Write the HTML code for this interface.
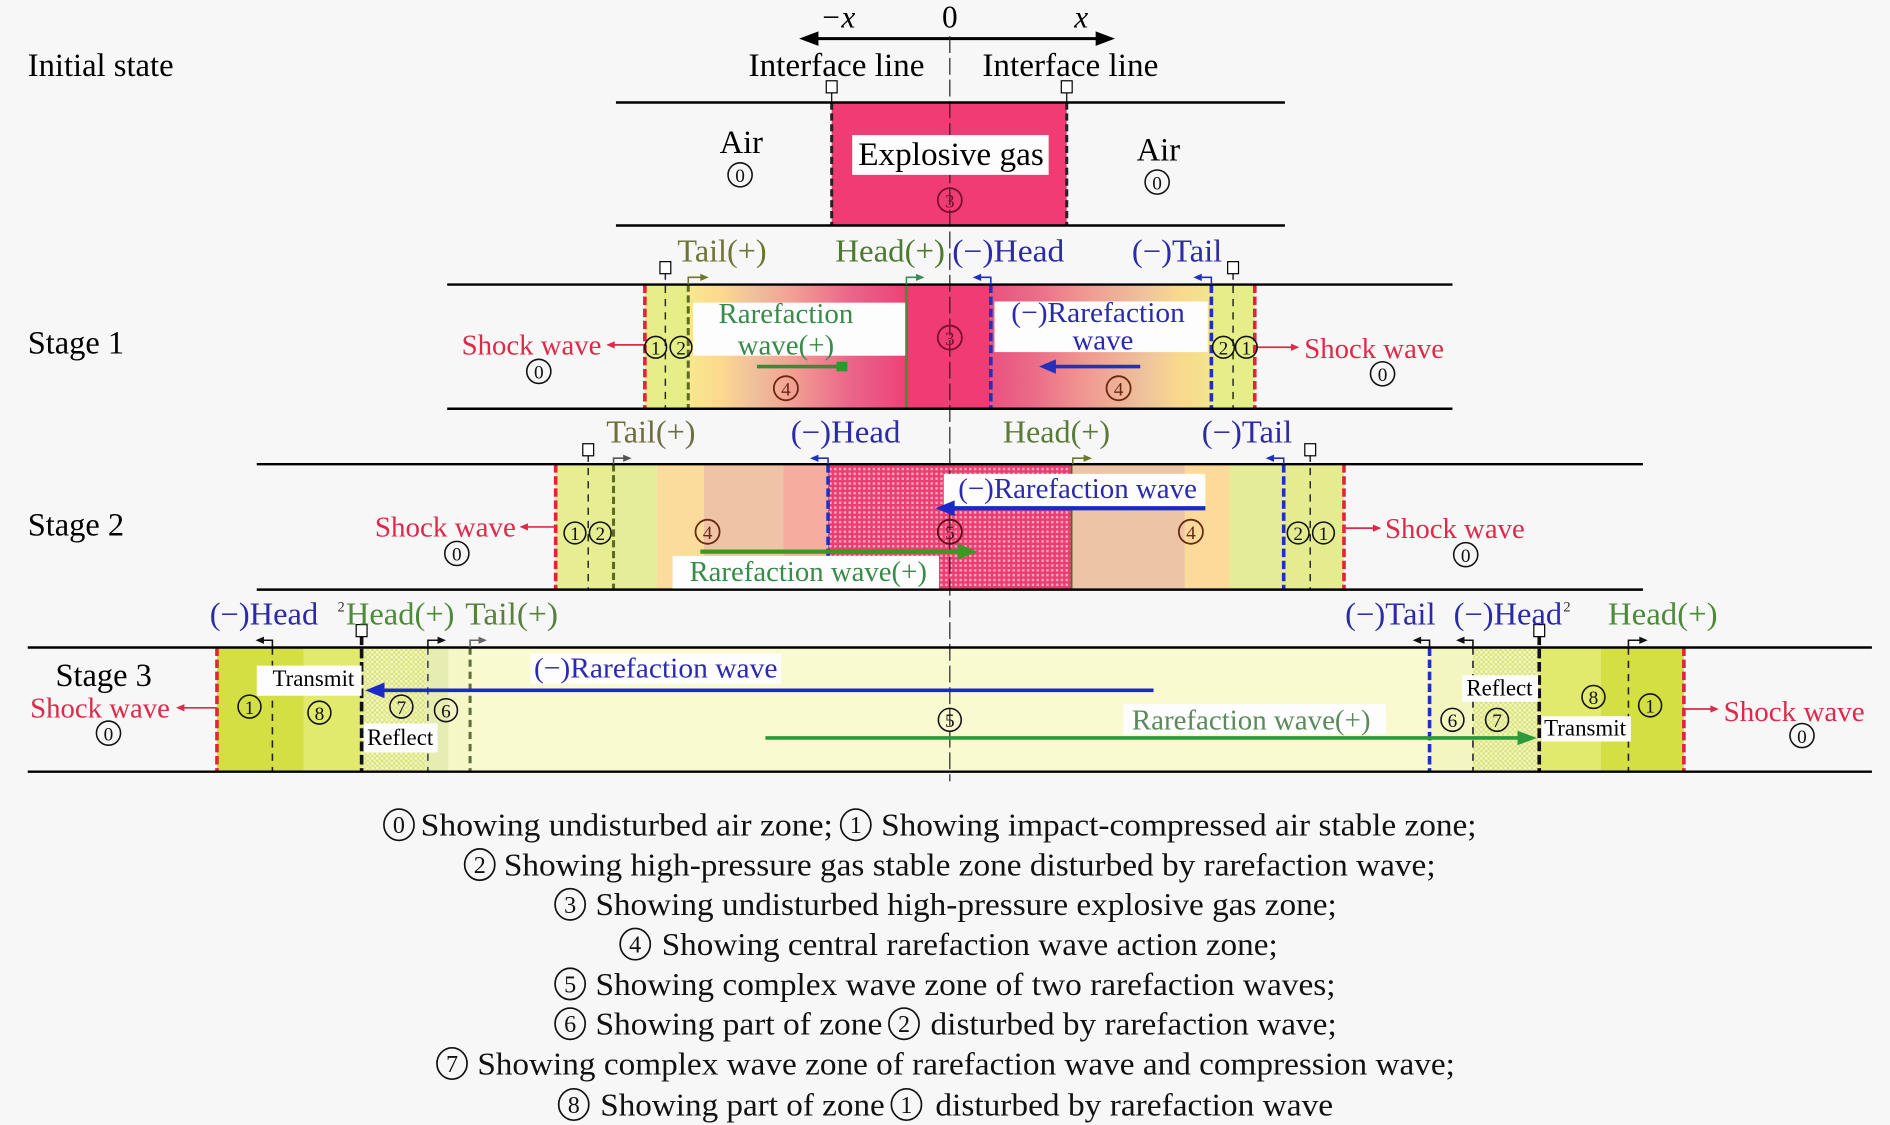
<!DOCTYPE html>
<html><head><meta charset="utf-8"><style>
html,body{margin:0;padding:0;background:#f7f7f7;}
svg{display:block;}
text{font-family:"Liberation Serif","DejaVu Serif",serif;}
.c{text-anchor:middle;}
</style></head><body>
<svg width="1890" height="1125" viewBox="0 0 1568 933" preserveAspectRatio="none" xmlns="http://www.w3.org/2000/svg">
<defs>
<pattern id="ph" width="4" height="4" patternUnits="userSpaceOnUse"><rect width="4" height="4" fill="#eb3d70"/><rect width="2" height="2" fill="#f8a8c0"/></pattern>
<pattern id="gh" width="4" height="4" patternUnits="userSpaceOnUse"><rect width="4" height="4" fill="#dce47a"/><rect width="2" height="2" fill="#f4f6cc"/><rect x="2" y="2" width="2" height="2" fill="#eef2b8"/></pattern>
<linearGradient id="g1L" x1="0" x2="1" y1="0" y2="0">
<stop offset="0" stop-color="#f8e88e"/><stop offset="0.15" stop-color="#fcd98f"/><stop offset="0.3" stop-color="#efc09c"/><stop offset="0.45" stop-color="#f3a595"/><stop offset="0.6" stop-color="#ef8490"/><stop offset="0.75" stop-color="#eb6488"/><stop offset="0.9" stop-color="#eb5080"/><stop offset="1" stop-color="#f04075"/></linearGradient>
<linearGradient id="g1R" x1="0" x2="1" y1="0" y2="0">
<stop offset="0" stop-color="#e9527f"/><stop offset="0.2" stop-color="#eb6c88"/><stop offset="0.4" stop-color="#f0938f"/><stop offset="0.55" stop-color="#efac96"/><stop offset="0.7" stop-color="#eec39c"/><stop offset="0.85" stop-color="#f9d88e"/><stop offset="1" stop-color="#f2e58e"/></linearGradient>
</defs>
<rect width="1568" height="933" fill="#f7f7f7"/>

<!-- ===== axis ===== -->
<line x1="672" y1="32" x2="916" y2="32" stroke="#000" stroke-width="2.5"/>
<polygon points="663,32 679,26 679,38" fill="#000"/>
<polygon points="925,32 909,26 909,38" fill="#000"/>
<text x="695" y="23" font-size="26" font-style="italic" class="c">−x</text>
<text x="788" y="23" font-size="26" class="c">0</text>
<text x="897" y="23" font-size="26" font-style="italic" class="c">x</text>
<text x="621" y="63" font-size="27" textLength="146" lengthAdjust="spacingAndGlyphs">Interface line</text>
<text x="815" y="63" font-size="27" textLength="146" lengthAdjust="spacingAndGlyphs">Interface line</text>
<text x="23" y="63" font-size="27" textLength="121" lengthAdjust="spacingAndGlyphs">Initial state</text>

<!-- ===== fills ===== -->
<rect x="690" y="85" width="195" height="102" fill="#f03c74"/>
<rect x="535" y="236" width="36" height="103" fill="#e6ee88"/>
<rect x="571" y="236" width="181" height="103" fill="url(#g1L)"/>
<rect x="752" y="236" width="70" height="103" fill="#f03c74"/>
<rect x="822" y="236" width="183" height="103" fill="url(#g1R)"/>
<rect x="1005" y="236" width="36" height="103" fill="#e6ee88"/>
<rect x="461" y="385" width="48" height="104" fill="#e6ed92"/>
<rect x="509" y="385" width="36" height="104" fill="#e6ed98"/>
<rect x="545" y="385" width="39" height="104" fill="#fcdc9c"/>
<rect x="584" y="385" width="66" height="104" fill="#efc4a6"/>
<rect x="650" y="385" width="37" height="104" fill="#f6ad9f"/>
<rect x="687" y="385" width="202" height="104" fill="url(#ph)"/>
<rect x="889" y="385" width="94" height="104" fill="#eec4a6"/>
<rect x="983" y="385" width="37" height="104" fill="#fcdb9a"/>
<rect x="1020" y="385" width="45" height="104" fill="#e5ec98"/>
<rect x="1065" y="385" width="50" height="104" fill="#e5ec90"/>
<rect x="180" y="537" width="72" height="103" fill="#d3df42"/>
<rect x="252" y="537" width="48" height="103" fill="#e1ea6c"/>
<rect x="300" y="537" width="53" height="103" fill="url(#gh)"/>
<rect x="353" y="537" width="19" height="103" fill="#e6edb2"/>
<rect x="372" y="537" width="18" height="103" fill="#f5f7c6"/>
<rect x="390" y="537" width="796" height="103" fill="#fafad0"/>
<rect x="1186" y="537" width="36" height="103" fill="#f4f6c2"/>
<rect x="1222" y="537" width="55" height="103" fill="url(#gh)"/>
<rect x="1277" y="537" width="51" height="103" fill="#e1ea6c"/>
<rect x="1328" y="537" width="69" height="103" fill="#d3df42"/>

<line x1="788" y1="30" x2="788" y2="648" stroke="#222" stroke-width="1" stroke-dasharray="14,4"/>

<g fill="none">
<line x1="690" y1="85" x2="690" y2="187" stroke="#222" stroke-width="2.5" stroke-dasharray="6,3"/>
<line x1="885" y1="85" x2="885" y2="187" stroke="#222" stroke-width="2.5" stroke-dasharray="6,3"/>
<line x1="535" y1="236" x2="535" y2="339" stroke="#e4233a" stroke-width="3" stroke-dasharray="7,3"/>
<line x1="552" y1="226" x2="552" y2="339" stroke="#222" stroke-width="1.2" stroke-dasharray="6,5"/>
<line x1="571" y1="236" x2="571" y2="339" stroke="#5d6a22" stroke-width="2.5" stroke-dasharray="6,3"/>
<line x1="752" y1="236" x2="752" y2="339" stroke="#4a8a3c" stroke-width="2.5"/>
<line x1="822" y1="236" x2="822" y2="339" stroke="#2230c0" stroke-width="3" stroke-dasharray="7,3"/>
<line x1="1005" y1="236" x2="1005" y2="339" stroke="#2230c0" stroke-width="3" stroke-dasharray="7,3"/>
<line x1="1023" y1="226" x2="1023" y2="339" stroke="#222" stroke-width="1.2" stroke-dasharray="6,5"/>
<line x1="1041" y1="236" x2="1041" y2="339" stroke="#e4233a" stroke-width="3" stroke-dasharray="7,3"/>
<line x1="461" y1="385" x2="461" y2="489" stroke="#e4233a" stroke-width="3" stroke-dasharray="7,3"/>
<line x1="488" y1="377" x2="488" y2="489" stroke="#222" stroke-width="1.2" stroke-dasharray="6,5"/>
<line x1="509" y1="385" x2="509" y2="489" stroke="#5d6a22" stroke-width="2.5" stroke-dasharray="6,3"/>
<line x1="687" y1="385" x2="687" y2="489" stroke="#2230c0" stroke-width="3" stroke-dasharray="7,3"/>
<line x1="889" y1="385" x2="889" y2="489" stroke="#4a6a30" stroke-width="1.5"/>
<line x1="1065" y1="385" x2="1065" y2="489" stroke="#2230c0" stroke-width="3" stroke-dasharray="7,3"/>
<line x1="1087" y1="377" x2="1087" y2="489" stroke="#222" stroke-width="1.2" stroke-dasharray="6,5"/>
<line x1="1115" y1="385" x2="1115" y2="489" stroke="#e4233a" stroke-width="3" stroke-dasharray="7,3"/>
<line x1="180" y1="537" x2="180" y2="640" stroke="#e4233a" stroke-width="3" stroke-dasharray="7,3"/>
<line x1="226" y1="537" x2="226" y2="640" stroke="#222" stroke-width="1.3" stroke-dasharray="6,5"/>
<line x1="300" y1="527" x2="300" y2="640" stroke="#111" stroke-width="3" stroke-dasharray="8,3"/>
<line x1="355" y1="537" x2="355" y2="640" stroke="#333" stroke-width="1.2" stroke-dasharray="6,5"/>
<line x1="390" y1="537" x2="390" y2="640" stroke="#5f6f3a" stroke-width="2.5" stroke-dasharray="6,4"/>
<line x1="1186" y1="537" x2="1186" y2="640" stroke="#2230c0" stroke-width="3" stroke-dasharray="7,3"/>
<line x1="1222" y1="537" x2="1222" y2="640" stroke="#222" stroke-width="1.3" stroke-dasharray="6,5"/>
<line x1="1277" y1="527" x2="1277" y2="640" stroke="#111" stroke-width="3" stroke-dasharray="8,3"/>
<line x1="1351" y1="537" x2="1351" y2="640" stroke="#222" stroke-width="1.3" stroke-dasharray="6,5"/>
<line x1="1397" y1="537" x2="1397" y2="640" stroke="#e4233a" stroke-width="3" stroke-dasharray="7,3"/>
</g>

<g stroke="#000" stroke-width="2">
<line x1="511" y1="85" x2="1066" y2="85"/><line x1="511" y1="187" x2="1066" y2="187"/>
<line x1="371" y1="236" x2="1205" y2="236"/><line x1="371" y1="339" x2="1205" y2="339"/>
<line x1="213" y1="385" x2="1363" y2="385"/><line x1="213" y1="489" x2="1363" y2="489"/>
<line x1="23" y1="537" x2="1553" y2="537"/><line x1="23" y1="640" x2="1553" y2="640"/>
</g>

<g fill="#fff" stroke="#000" stroke-width="1">
<line x1="690" y1="77" x2="690" y2="85"/><rect x="685.5" y="67" width="9" height="10"/>
<line x1="885" y1="77" x2="885" y2="85"/><rect x="880.5" y="67" width="9" height="10"/>
<rect x="547.5" y="217" width="9" height="10"/>
<rect x="1018.5" y="217" width="9" height="10"/>
<rect x="483.5" y="368" width="9" height="10"/>
<rect x="1082.5" y="368" width="9" height="10"/>
<rect x="295.5" y="518" width="9" height="10"/>
<rect x="1272.5" y="518" width="9" height="10"/>
</g>

<g fill="none" stroke-width="1.3">
<polyline points="571,236 571,230 583,230" stroke="#6a7a2a"/>
<polyline points="752,236 752,230 762,230" stroke="#3a8a5a"/>
<polyline points="822,236 822,230 812,230" stroke="#2230c0"/>
<polyline points="1005,236 1005,230 995,230" stroke="#2230c0"/>
<polyline points="509,385 509,380 519,380" stroke="#555"/>
<polyline points="687,385 687,380 677,380" stroke="#2230c0"/>
<polyline points="890,385 890,380 901,380" stroke="#6a7a2a"/>
<polyline points="1065,385 1065,380 1055,380" stroke="#2230c0"/>
<polyline points="226,537 226,531 217,531" stroke="#111"/>
<polyline points="355,537 355,531 365,531" stroke="#111"/>
<polyline points="390,537 390,531 399,531" stroke="#666"/>
<polyline points="1186,537 1186,531 1177,531" stroke="#111"/>
<polyline points="1222,537 1222,531 1213,531" stroke="#111"/>
<polyline points="1351,537 1351,531 1362,531" stroke="#111"/>
</g>
<g>
<polygon points="588,230 581,227 581,233" fill="#6a7a2a"/>
<polygon points="767,230 760,227 760,233" fill="#3a8a5a"/>
<polygon points="807,230 814,227 814,233" fill="#2230c0"/>
<polygon points="990,230 997,227 997,233" fill="#2230c0"/>
<polygon points="524,380 517,377 517,383" fill="#555"/>
<polygon points="672,380 679,377 679,383" fill="#2230c0"/>
<polygon points="906,380 899,377 899,383" fill="#6a7a2a"/>
<polygon points="1050,380 1057,377 1057,383" fill="#2230c0"/>
<polygon points="212,531 219,528 219,534" fill="#111"/>
<polygon points="370,531 363,528 363,534" fill="#111"/>
<polygon points="404,531 397,528 397,534" fill="#666"/>
<polygon points="1172,531 1179,528 1179,534" fill="#111"/>
<polygon points="1208,531 1215,528 1215,534" fill="#111"/>
<polygon points="1367,531 1360,528 1360,534" fill="#111"/>
</g>

<g fill="#fdfdfd">
<rect x="707" y="112" width="163" height="33"/>
<rect x="575" y="251" width="176" height="44"/>
<rect x="825" y="250" width="177" height="42"/>
<rect x="783" y="393" width="217" height="27"/>
<rect x="558" y="461" width="221" height="27"/>
<rect x="213" y="552" width="87" height="25"/>
<rect x="302" y="600" width="61" height="24"/>
<rect x="440" y="542" width="208" height="25"/>
<rect x="932" y="584" width="218" height="25"/>
<rect x="1213" y="560" width="63" height="22"/>
<rect x="1279" y="594" width="74" height="21"/>
</g>

<line x1="628" y1="304" x2="696" y2="304" stroke="#3a8a3a" stroke-width="3"/>
<rect x="694" y="300" width="9" height="8" fill="#2a9a2a"/>
<line x1="946" y1="304" x2="872" y2="304" stroke="#2230c0" stroke-width="3"/>
<polygon points="862,304 876,298 876,310" fill="#2230c0"/>
<line x1="1000" y1="421.5" x2="788" y2="421.5" stroke="#1a2ac8" stroke-width="3.5"/>
<polygon points="776,421.5 792,415 792,428" fill="#1a2ac8"/>
<line x1="581" y1="457.5" x2="798" y2="457.5" stroke="#3a9a20" stroke-width="3.5"/>
<polygon points="811,457.5 795,451 795,464" fill="#3a9a20"/>
<line x1="957" y1="572.5" x2="316" y2="572.5" stroke="#1a2ac8" stroke-width="3"/>
<polygon points="303,572.5 319,566 319,579" fill="#1a2ac8"/>
<line x1="635" y1="612" x2="1262" y2="612" stroke="#2a9a3a" stroke-width="3"/>
<polygon points="1275,612 1259,606 1259,618" fill="#2a9a3a"/>

<g stroke="#e02848" stroke-width="1.4">
<line x1="535" y1="286" x2="508" y2="286"/>
<line x1="1041" y1="288" x2="1072" y2="288"/>
<line x1="461" y1="437" x2="436" y2="437"/>
<line x1="1115" y1="438" x2="1140" y2="438"/>
<line x1="180" y1="587" x2="151" y2="587"/>
<line x1="1397" y1="588" x2="1420" y2="588"/>
</g>
<g fill="#e02848">
<polygon points="503,286 510,283 510,289"/>
<polygon points="1078,288 1071,285 1071,291"/>
<polygon points="431,437 438,434 438,440"/>
<polygon points="1146,438 1139,435 1139,441"/>
<polygon points="146,587 153,584 153,590"/>
<polygon points="1426,588 1419,585 1419,591"/>
</g>

<text x="615" y="127" font-size="27" class="c">Air</text>
<text x="961" y="133" font-size="27" class="c">Air</text>
<text x="712" y="137" font-size="27" textLength="154" lengthAdjust="spacingAndGlyphs">Explosive gas</text>

<text x="23" y="293" font-size="27" textLength="80" lengthAdjust="spacingAndGlyphs">Stage 1</text>
<text x="23" y="444" font-size="27" textLength="80" lengthAdjust="spacingAndGlyphs">Stage 2</text>
<text x="46" y="569" font-size="27" textLength="80" lengthAdjust="spacingAndGlyphs">Stage 3</text>

<text x="562" y="217" font-size="26" fill="#6e7432" textLength="74" lengthAdjust="spacingAndGlyphs">Tail(+)</text>
<text x="693" y="217" font-size="26" fill="#4e7a30" textLength="91" lengthAdjust="spacingAndGlyphs">Head(+)</text>
<text x="790" y="217" font-size="26" fill="#2b2ba6" textLength="93" lengthAdjust="spacingAndGlyphs">(−)Head</text>
<text x="939" y="217" font-size="26" fill="#2b2ba6" textLength="75" lengthAdjust="spacingAndGlyphs">(−)Tail</text>
<text x="652" y="268" font-size="24" fill="#3a8a4a" class="c">Rarefaction</text>
<text x="652" y="294" font-size="24" fill="#3a8a4a" class="c">wave(+)</text>
<text x="839" y="267" font-size="24" fill="#2a2ab0" textLength="144" lengthAdjust="spacingAndGlyphs">(−)Rarefaction</text>
<text x="915" y="290" font-size="24" fill="#2a2ab0" class="c">wave</text>
<text x="383" y="294" font-size="24" fill="#e02848" textLength="116" lengthAdjust="spacingAndGlyphs">Shock wave</text>
<text x="1082" y="297" font-size="24" fill="#e02848" textLength="116" lengthAdjust="spacingAndGlyphs">Shock wave</text>

<text x="503" y="367" font-size="26" fill="#6e6e40" textLength="74" lengthAdjust="spacingAndGlyphs">Tail(+)</text>
<text x="656" y="367" font-size="26" fill="#2b2ba6" textLength="91" lengthAdjust="spacingAndGlyphs">(−)Head</text>
<text x="832" y="367" font-size="26" fill="#5a7a38" textLength="89" lengthAdjust="spacingAndGlyphs">Head(+)</text>
<text x="997" y="367" font-size="26" fill="#2b2ba6" textLength="75" lengthAdjust="spacingAndGlyphs">(−)Tail</text>
<text x="795" y="413" font-size="24" fill="#2a2ab0" textLength="198" lengthAdjust="spacingAndGlyphs">(−)Rarefaction wave</text>
<text x="572" y="482" font-size="24" fill="#3a8a4a" textLength="197" lengthAdjust="spacingAndGlyphs">Rarefaction wave(+)</text>
<text x="311" y="445" font-size="24" fill="#e02848" textLength="117" lengthAdjust="spacingAndGlyphs">Shock wave</text>
<text x="1149" y="446" font-size="24" fill="#e02848" textLength="116" lengthAdjust="spacingAndGlyphs">Shock wave</text>

<text x="174" y="518" font-size="26" fill="#2b2ba6" textLength="90" lengthAdjust="spacingAndGlyphs">(−)Head</text>
<text x="280" y="507" font-size="12" fill="#333">2</text>
<text x="287" y="518" font-size="26" fill="#4e8a3a" textLength="90" lengthAdjust="spacingAndGlyphs">Head(+)</text>
<text x="386" y="518" font-size="26" fill="#5a8040" textLength="77" lengthAdjust="spacingAndGlyphs">Tail(+)</text>
<text x="1116" y="518" font-size="26" fill="#2b2ba6" textLength="75" lengthAdjust="spacingAndGlyphs">(−)Tail</text>
<text x="1206" y="518" font-size="26" fill="#2b2ba6" textLength="90" lengthAdjust="spacingAndGlyphs">(−)Head</text>
<text x="1297" y="507" font-size="12" fill="#333">2</text>
<text x="1334" y="518" font-size="26" fill="#4e8a3a" textLength="91" lengthAdjust="spacingAndGlyphs">Head(+)</text>
<text x="25" y="595" font-size="24" fill="#e02848" textLength="116" lengthAdjust="spacingAndGlyphs">Shock wave</text>
<text x="1430" y="598" font-size="24" fill="#e02848" textLength="117" lengthAdjust="spacingAndGlyphs">Shock wave</text>
<text x="260" y="569" font-size="19" class="c">Transmit</text>
<text x="332" y="618" font-size="19" class="c">Reflect</text>
<text x="1244" y="577" font-size="19" class="c">Reflect</text>
<text x="1315" y="610" font-size="19" class="c">Transmit</text>
<text x="443" y="562" font-size="24" fill="#2a2ab0" textLength="202" lengthAdjust="spacingAndGlyphs">(−)Rarefaction wave</text>
<text x="939" y="605" font-size="24" fill="#5a8a5a" textLength="198" lengthAdjust="spacingAndGlyphs">Rarefaction wave(+)</text>

<g fill="none" stroke="#111" stroke-width="1.3">
<circle cx="614" cy="145" r="10"/><circle cx="960" cy="151" r="10"/>
<circle cx="447" cy="308" r="10"/><circle cx="1147" cy="310" r="10"/>
<circle cx="544" cy="288" r="9"/><circle cx="565" cy="288" r="9"/>
<circle cx="1015" cy="288" r="9"/><circle cx="1034" cy="288" r="9"/>
<circle cx="379" cy="459" r="10"/><circle cx="1216" cy="460" r="10"/>
<circle cx="477" cy="442" r="9"/><circle cx="498" cy="442" r="9"/>
<circle cx="1077" cy="442" r="9"/><circle cx="1098" cy="442" r="9"/>
<circle cx="90" cy="608" r="10"/><circle cx="1495" cy="610" r="10"/>
<circle cx="207" cy="586" r="9.5"/><circle cx="265" cy="591" r="9.5"/>
<circle cx="333" cy="586" r="9.5"/><circle cx="370" cy="589" r="9.5"/>
<circle cx="1205" cy="597" r="9.5"/><circle cx="1242" cy="597" r="9.5"/>
<circle cx="1322" cy="578" r="9.5"/><circle cx="1369" cy="585" r="9.5"/>
<circle cx="788" cy="597" r="9.5"/>
</g>
<g fill="none" stroke-width="1.5">
<circle cx="788" cy="166" r="10" stroke="#7a0c2c"/>
<circle cx="788" cy="280" r="10" stroke="#7a0c2c"/>
<circle cx="652" cy="322" r="10" stroke="#6a2a10"/>
<circle cx="928" cy="322" r="10" stroke="#6a2a10"/>
<circle cx="587" cy="441" r="10" stroke="#6a2a10"/>
<circle cx="988" cy="441" r="10" stroke="#6a2a10"/>
<circle cx="788" cy="441" r="10" stroke="#5a0a10"/>
</g>
<g font-size="16" class="c" fill="#111">
<text x="614" y="151" class="c">0</text><text x="960" y="157" class="c">0</text>
<text x="447" y="314" class="c">0</text><text x="1147" y="316" class="c">0</text>
<text x="544" y="294" class="c">1</text><text x="565" y="294" class="c">2</text>
<text x="1015" y="294" class="c">2</text><text x="1034" y="294" class="c">1</text>
<text x="379" y="465" class="c">0</text><text x="1216" y="466" class="c">0</text>
<text x="477" y="448" class="c">1</text><text x="498" y="448" class="c">2</text>
<text x="1077" y="448" class="c">2</text><text x="1098" y="448" class="c">1</text>
<text x="90" y="614" class="c">0</text><text x="1495" y="616" class="c">0</text>
<text x="207" y="592" class="c">1</text><text x="265" y="597" class="c">8</text>
<text x="333" y="592" class="c">7</text><text x="370" y="595" class="c">6</text>
<text x="1205" y="603" class="c">6</text><text x="1242" y="603" class="c">7</text>
<text x="1322" y="584" class="c">8</text><text x="1369" y="591" class="c">1</text>
<text x="788" y="603" class="c">5</text>
<text x="788" y="172" class="c" fill="#7a0c2c">3</text>
<text x="788" y="286" class="c" fill="#7a0c2c">3</text>
<text x="652" y="328" class="c" fill="#6a2a10">4</text>
<text x="928" y="328" class="c" fill="#6a2a10">4</text>
<text x="587" y="447" class="c" fill="#6a2a10">4</text>
<text x="988" y="447" class="c" fill="#6a2a10">4</text>
<text x="788" y="447" class="c" fill="#5a0a10">5</text>
</g>

<g fill="none" stroke="#111" stroke-width="1.4">
<ellipse cx="331" cy="684" rx="12.5" ry="13"/>
<ellipse cx="710" cy="684" rx="12.5" ry="13"/>
<ellipse cx="398" cy="717" rx="12.5" ry="13"/>
<ellipse cx="473" cy="750" rx="12.5" ry="13"/>
<ellipse cx="527" cy="783" rx="12.5" ry="13"/>
<ellipse cx="473" cy="816" rx="12.5" ry="13"/>
<ellipse cx="473" cy="849" rx="12.5" ry="13"/>
<ellipse cx="750" cy="849" rx="12.5" ry="13"/>
<ellipse cx="375" cy="882" rx="12.5" ry="13"/>
<ellipse cx="476" cy="916" rx="12.5" ry="13"/>
<ellipse cx="752" cy="916" rx="12.5" ry="13"/>
</g>
<g font-size="20" fill="#111">
<text x="331" y="691" class="c">0</text>
<text x="710" y="691" class="c">1</text>
<text x="398" y="724" class="c">2</text>
<text x="473" y="757" class="c">3</text>
<text x="527" y="790" class="c">4</text>
<text x="473" y="823" class="c">5</text>
<text x="473" y="856" class="c">6</text>
<text x="750" y="856" class="c">2</text>
<text x="375" y="889" class="c">7</text>
<text x="476" y="923" class="c">8</text>
<text x="752" y="923" class="c">1</text>
</g>
<g font-size="26" fill="#111">
<text x="349" y="693" textLength="342" lengthAdjust="spacingAndGlyphs">Showing undisturbed air zone;</text>
<text x="731" y="693" textLength="494" lengthAdjust="spacingAndGlyphs">Showing impact-compressed air stable zone;</text>
<text x="418" y="726" textLength="773" lengthAdjust="spacingAndGlyphs">Showing high-pressure gas stable zone disturbed by rarefaction wave;</text>
<text x="494" y="759" textLength="615" lengthAdjust="spacingAndGlyphs">Showing undisturbed high-pressure explosive gas zone;</text>
<text x="549" y="792" textLength="511" lengthAdjust="spacingAndGlyphs">Showing central rarefaction wave action zone;</text>
<text x="494" y="825" textLength="614" lengthAdjust="spacingAndGlyphs">Showing complex wave zone of two rarefaction waves;</text>
<text x="494" y="858" textLength="238" lengthAdjust="spacingAndGlyphs">Showing part of zone</text>
<text x="772" y="858" textLength="337" lengthAdjust="spacingAndGlyphs">disturbed by rarefaction wave;</text>
<text x="396" y="891" textLength="811" lengthAdjust="spacingAndGlyphs">Showing complex wave zone of rarefaction wave and compression wave;</text>
<text x="498" y="925" textLength="236" lengthAdjust="spacingAndGlyphs">Showing part of zone</text>
<text x="776" y="925" textLength="330" lengthAdjust="spacingAndGlyphs">disturbed by rarefaction wave</text>
</g>
</svg>
</body></html>
